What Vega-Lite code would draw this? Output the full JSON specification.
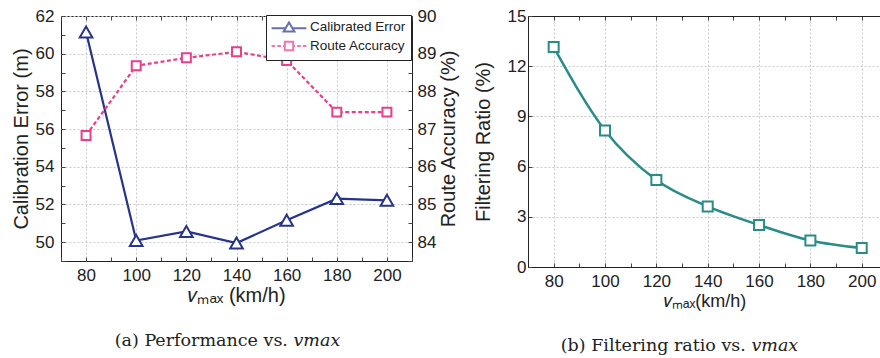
{
  "$schema": "https://vega.github.io/schema/vega-lite/v6.json",
  "background": "white",
  "padding": {"left": 10, "top": 6, "right": 0, "bottom": 0},
  "spacing": 13,
  "config": {
    "font": "Liberation Sans",
    "axis": {
      "labelFont": "Liberation Sans", "titleFont": "Liberation Sans",
      "labelFontSize": 17, "titleFontSize": 20, "titleFontWeight": "normal",
      "labelColor": "#222", "titleColor": "#222",
      "tickColor": "#444", "tickSize": -4, "tickWidth": 1,
      "domainColor": "#222", "gridColor": "#c8c8c8", "gridDash": [2, 2], "gridWidth": 1,
      "labelFlush": false, "labelOverlap": false
    },
    "view": {"stroke": "#222", "strokeWidth": 1}
  },
  "datasets": {
    "d": [
      {"v": 80, "error": 61.15, "acc": 86.83, "ratio": 13.14},
      {"v": 100, "error": 50.09, "acc": 88.68, "ratio": 8.16},
      {"v": 120, "error": 50.57, "acc": 88.89, "ratio": 5.2},
      {"v": 140, "error": 49.95, "acc": 89.05, "ratio": 3.62},
      {"v": 160, "error": 51.16, "acc": 88.82, "ratio": 2.51},
      {"v": 180, "error": 52.31, "acc": 87.45, "ratio": 1.58},
      {"v": 200, "error": 52.22, "acc": 87.45, "ratio": 1.13}
    ]
  },
  "hconcat": [
    {
      "width": 351,
      "height": 245,
      "data": {"name": "d"},
      "title": {"text": "(a)  Performance vs. \ud835\udc63\ud835\udc5a\ud835\udc4e\ud835\udc65", "orient": "bottom", "anchor": "middle", "dx": -9, "offset": 27, "font": "DejaVu Serif", "fontSize": 17.5, "fontWeight": "normal", "color": "#222"},
      "layer": [
        {
          "encoding": {
            "x": {"field": "v", "type": "quantitative", "scale": {"domain": [70, 210], "nice": false, "zero": false},
              "axis": {"orient": "bottom", "values": [70, 80, 90, 100, 110, 120, 130, 140, 150, 160, 170, 180, 190, 200, 210],
                "labelExpr": "datum.value % 20 === 0 ? datum.label : ''",
                "gridOpacity": {"condition": {"test": "datum.value % 20 !== 0", "value": 0}, "value": 1},
                "labelPadding": 10, "domain": false, "title": "\ud835\udc63\u2098\u2090\u2093 (km/h)", "titlePadding": 2}},
            "y": {"field": "error", "type": "quantitative", "scale": {"domain": [49, 62], "nice": false, "zero": false},
              "axis": {"orient": "left", "values": [49, 50, 51, 52, 53, 54, 55, 56, 57, 58, 59, 60, 61, 62],
                "labelExpr": "datum.value % 2 === 0 ? datum.label : ''",
                "gridOpacity": {"condition": {"test": "datum.value % 2 !== 0", "value": 0}, "value": 1},
                "labelPadding": 11, "domain": false, "title": "Calibration Error (m)", "titlePadding": 4}}
          },
          "layer": [
            {"mark": {"type": "line", "color": "#27348B", "strokeWidth": 2.2}},
            {"mark": {"type": "point", "shape": "triangle-up", "size": 160, "filled": true, "fill": "white", "stroke": "#27348B", "strokeWidth": 2, "opacity": 1}}
          ]
        },
        {
          "encoding": {
            "x": {"field": "v", "type": "quantitative", "scale": {"domain": [70, 210], "nice": false, "zero": false},
              "axis": {"orient": "top", "values": [70, 80, 90, 100, 110, 120, 130, 140, 150, 160, 170, 180, 190, 200, 210],
                "labels": false, "grid": false, "domain": false, "title": null}},
            "y": {"field": "acc", "type": "quantitative", "scale": {"domain": [83.5, 90], "nice": false, "zero": false},
              "axis": {"orient": "right", "values": [83.5, 84, 84.5, 85, 85.5, 86, 86.5, 87, 87.5, 88, 88.5, 89, 89.5, 90],
                "labelExpr": "datum.value % 1 === 0 ? format(datum.value, 'd') : ''",
                "grid": false, "labelPadding": 9, "domain": false, "title": "Route Accuracy (%)", "titlePadding": 3, "titleAngle": -90, "titleBaseline": "top"}}
          },
          "layer": [
            {"mark": {"type": "line", "color": "#E83E8C", "strokeWidth": 2.2, "strokeDash": [4, 2.5]}},
            {"mark": {"type": "point", "shape": "square", "size": 80, "filled": true, "fill": "white", "stroke": "#E83E8C", "strokeWidth": 2, "opacity": 1}}
          ]
        },
        {
          "data": {"values": [{"s": "Calibrated Error"}, {"s": "Route Accuracy"}]},
          "transform": [{"filter": "false"}],
          "mark": {"type": "point", "filled": false, "strokeWidth": 2, "size": 144},
          "encoding": {
            "color": {"field": "s", "type": "nominal",
              "scale": {"domain": ["Calibrated Error", "Route Accuracy"], "range": ["#27348B", "#E83E8C"]},
              "legend": {"title": null, "orient": "none", "legendX": 205, "legendY": -1,
                "strokeColor": "#222", "fillColor": "white", "padding": 5,
                "labelFont": "Liberation Sans", "labelFontSize": 13.5, "labelColor": "#222",
                "symbolSize": 144, "symbolStrokeWidth": 2, "symbolOffset": 11, "labelOffset": 14, "rowPadding": 1}},
            "shape": {"field": "s", "type": "nominal",
              "scale": {"domain": ["Calibrated Error", "Route Accuracy"],
                "range": ["M -2.9 0.2 L -0.57 0.2 M 0.57 0.2 L 2.9 0.2 M 0 -0.75 L 0.9 0.75 L -0.9 0.75 Z",
                          "M -2.9 0 L -2.3 0 M -1.95 0 L -1.35 0 M -1 0 L -0.7 0 M 0.7 0 L 1 0 M 1.35 0 L 1.95 0 M 2.3 0 L 2.9 0 M -0.7 -0.7 L 0.7 -0.7 L 0.7 0.7 L -0.7 0.7 Z"]}}
          }
        }
      ],
      "resolve": {"scale": {"y": "independent"}, "axis": {"x": "independent", "y": "independent"}}
    },
    {
      "width": 353,
      "height": 251,
      "data": {"name": "d"},
      "view": {"stroke": null},
      "title": {"text": "(b)  Filtering ratio vs. \ud835\udc63\ud835\udc5a\ud835\udc4e\ud835\udc65", "orient": "bottom", "anchor": "middle", "dx": -25, "offset": 27, "font": "DejaVu Serif", "fontSize": 17.5, "fontWeight": "normal", "color": "#222"},
      "layer": [
        {
          "mark": {"type": "line", "color": "#2A8C88", "strokeWidth": 2.5, "interpolate": "monotone"},
          "encoding": {
            "x": {"field": "v", "type": "quantitative", "scale": {"domain": [70, 207.5], "nice": false, "zero": false},
              "axis": {"orient": "bottom", "values": [70, 80, 90, 100, 110, 120, 130, 140, 150, 160, 170, 180, 190, 200],
                "labelExpr": "datum.value % 20 === 0 ? datum.label : ''",
                "gridOpacity": {"condition": {"test": "datum.value % 20 !== 0", "value": 0}, "value": 1},
                "labelPadding": 10, "domain": true, "title": "\ud835\udc63\u2098\u2090\u2093(km/h)", "titleFontSize": 18, "titlePadding": 3}},
            "y": {"field": "ratio", "type": "quantitative", "scale": {"domain": [0, 15], "nice": false, "zero": false},
              "axis": {"orient": "left", "values": [0, 1.5, 3, 4.5, 6, 7.5, 9, 10.5, 12, 13.5, 15],
                "labelExpr": "datum.value % 3 === 0 ? datum.label : ''",
                "gridOpacity": {"condition": {"test": "datum.value % 3 !== 0", "value": 0}, "value": 1},
                "labelPadding": 6, "domain": true, "title": "Filtering Ratio (%)", "titlePadding": 14}}
          }
        },
        {
          "mark": {"type": "point", "shape": "square", "size": 100, "filled": true, "fill": "white", "stroke": "#2A8C88", "strokeWidth": 2, "opacity": 1},
          "encoding": {
            "x": {"field": "v", "type": "quantitative", "scale": {"domain": [70, 207.5], "nice": false, "zero": false},
              "axis": {"orient": "top", "values": [70, 80, 90, 100, 110, 120, 130, 140, 150, 160, 170, 180, 190, 200],
                "labels": false, "grid": false, "domain": true, "title": null}},
            "y": {"field": "ratio", "type": "quantitative"}
          }
        }
      ],
      "resolve": {"axis": {"x": "independent"}}
    }
  ]
}
